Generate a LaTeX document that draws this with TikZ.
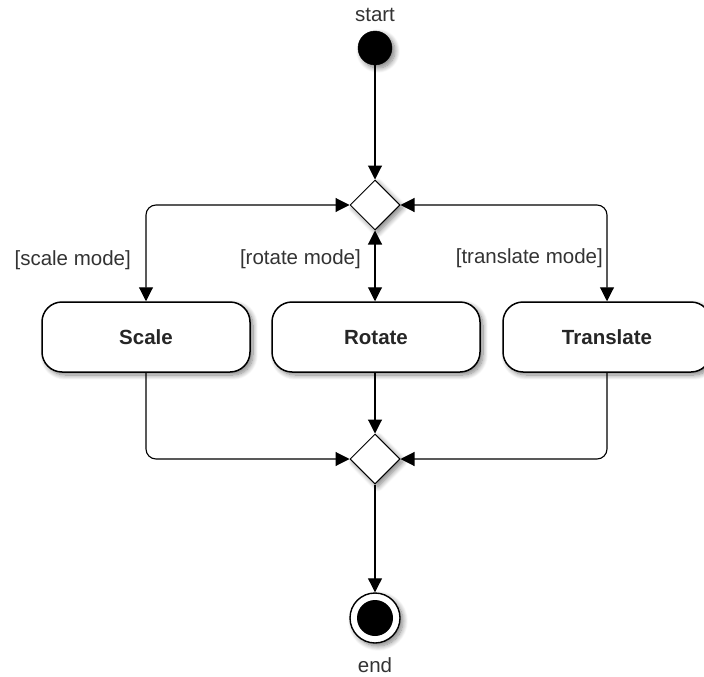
\documentclass[tikz,border=0pt]{standalone}
\usepackage{fontspec}
\setmainfont{Liberation Sans}
\usetikzlibrary{shapes.geometric,arrows.meta,shadows.blur}

\tikzset{
  softshadow/.style={blur shadow={shadow xshift=3pt, shadow yshift=-3pt,
      shadow blur radius=5pt, shadow blur steps=10, shadow opacity=50}},
  initialnode/.style={circle, fill=black, draw=black, minimum size=34pt,
      inner sep=0pt, softshadow},
  finalouter/.style={circle, fill=white, draw=black, line width=1.4pt,
      minimum size=50pt, inner sep=0pt, softshadow},
  finalinner/.style={circle, fill=black, minimum size=36pt, inner sep=0pt},
  choice/.style={diamond, aspect=1, fill=white, draw=black, line width=1pt,
      minimum width=50pt, minimum height=50pt, inner sep=0pt, softshadow},
  actbox/.style={rectangle, rounded corners=20pt, fill=white, draw=black,
      line width=1.5pt, minimum width=208pt, minimum height=70pt,
      inner sep=0pt, text height=15pt, text depth=0pt,
      font=\fontsize{20.5}{22}\selectfont\bfseries,
      text=black!85, softshadow},
  caption/.style={font=\fontsize{20.5}{22}\selectfont, text=black!80,
      inner sep=0pt},
  flow/.style={draw=black, line width=1.1pt, rounded corners=10pt},
  tipend/.style={-{Triangle[length=14pt,width=14pt]}},
  tipboth/.style={{Triangle[length=14pt,width=14pt]}-{Triangle[length=14pt,width=14pt]}}
}

\begin{document}
\begin{tikzpicture}[x=1pt, y=-1pt]
  \useasboundingbox (0,0) rectangle (704,677);

  % start and end of the flow
  \node[initialnode] (start) at (375,48) {};
  \node[caption] (starttxt) at (375,15) {start};

  \node[finalouter] (final) at (375,618) {};
  \node[finalinner] (finaldot) at (final.center) {};
  \node[caption] (endtxt) at (375,665) {end};

  % decision and merge points
  \node[choice] (split) at (375,205) {};
  \node[choice] (merge) at (375,459) {};

  % the three modes
  \node[actbox] (scale) at (146,337) {Scale};
  \node[actbox] (rotate) at (376,337) {Rotate};
  \node[actbox] (translate) at (607,337) {Translate};

  % guard labels
  \node[caption, anchor=east] (gscale) at (131,260) {[scale mode]};
  \node[caption, anchor=east] (grotate) at (361,259) {[rotate mode]};
  \node[caption, anchor=east] (gtranslate) at (603,258) {[translate mode]};

  % connectors
  \draw[flow, tipend] (start.south) -- (split.north);
  \draw[flow, tipboth] (split.west) -| (scale.north);
  \draw[flow, tipboth] (split.south) -- (split.south |- rotate.north);
  \draw[flow, tipboth] (split.east) -| (translate.north);

  \draw[flow, tipend] (scale.south) |- (merge.west);
  \draw[flow, tipend] (merge.north |- rotate.south) -- (merge.north);
  \draw[flow, tipend] (translate.south) |- (merge.east);
  \draw[flow, tipend] (merge.south) -- (final.north);
\end{tikzpicture}
\end{document}
